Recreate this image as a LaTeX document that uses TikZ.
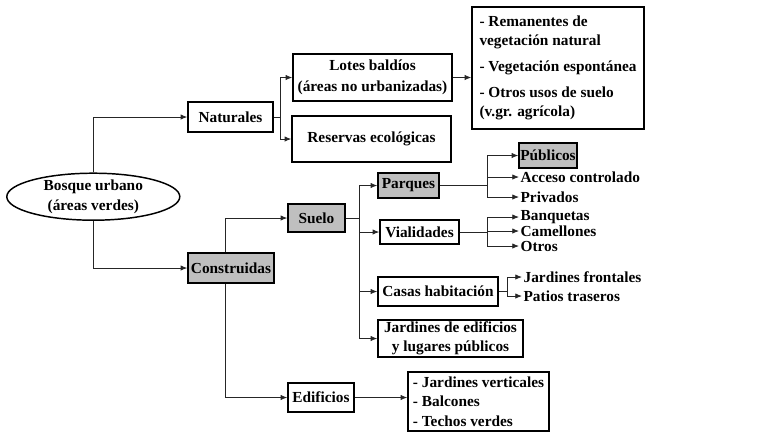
\documentclass[tikz,border=0pt]{standalone}
\usepackage{fontspec}
\setmainfont{Liberation Serif}
\usetikzlibrary{shapes.geometric}
\usetikzlibrary{arrows.meta}
\tikzset{>={Latex[length=5pt,width=4pt]}}

\begin{document}
\begin{tikzpicture}[x=0.75pt,y=-0.75pt,
  every node/.style={font=\bfseries\fontsize{11.5}{14.5}\selectfont, inner sep=1pt},
  box/.style={draw, line width=1.1pt, align=center, inner sep=0pt},
  grey/.style={box, fill=black!25},
  conn/.style={->, black!85, line width=0.6pt}]
\def\px{0.75pt}
\useasboundingbox (0,0) rectangle (780,437);
  % Root and first level
  \node[ellipse, draw, line width=1.1pt, minimum width=173*\px, minimum height=47*\px, align=center, inner sep=0pt] (bosque) at (93.3,196.7) {Bosque urbano\\(áreas verdes)};
  \node[box, minimum width=85*\px, minimum height=30*\px] (nat) at (230.5,117) {Naturales};
  \node[grey, minimum width=86*\px, minimum height=30*\px] (cons) at (231,268) {Construidas};

  % Naturales branch
  \node[box, minimum width=159*\px, minimum height=47*\px] (lotes) at (372.5,77.5) {Lotes baldíos\\[1pt](áreas no urbanizadas)};
  \node[box, minimum width=159*\px, minimum height=46*\px] (res) at (371.5,139) {Reservas ecológicas};
  \node[box, align=left, minimum width=172*\px, minimum height=122*\px] (rem) at (558,68) {- Remanentes de\\vegetación natural\\[5pt]- Vegetación espontánea\\[5pt]- Otros usos de suelo\\(v.gr. agrícola)};

  % Construidas branch
  \node[grey, minimum width=57*\px, minimum height=28*\px] (suelo) at (316.5,218) {Suelo};
  \node[box, minimum width=66*\px, minimum height=29*\px] (edif) at (321,397.5) {Edificios};
  \node[grey, minimum width=61*\px, minimum height=25*\px] (parq) at (408.5,185.5) {Parques};
  \node[box, minimum width=79*\px, minimum height=24*\px] (vial) at (419.5,232) {Vialidades};
  \node[box, minimum width=120*\px, minimum height=29*\px] (casas) at (438,291.5) {Casas habitación};
  \node[box, minimum width=145*\px, minimum height=37*\px] (jard) at (450.5,338.5) {Jardines de edificios\\y lugares públicos};
  \node[box, align=left, minimum width=141*\px, minimum height=59*\px] (verts) at (478.5,401.5) {- Jardines verticales\\- Balcones\\- Techos verdes};

  % Leaves
  \node[grey, minimum width=58*\px, minimum height=25*\px] (pub) at (548,155.5) {Públicos};
  \node[anchor=west] (acc) at (519,177) {Acceso controlado};
  \node[anchor=west] (priv) at (519,197) {Privados};
  \node[anchor=west] (banq) at (519,217) {Banquetas};
  \node[anchor=west] (cam) at (519,231) {Camellones};
  \node[anchor=west] (otros) at (519,246) {Otros};
  \node[anchor=west] (jfront) at (522,277) {Jardines frontales};
  \node[anchor=west] (patios) at (522,296) {Patios traseros};

  % Connectors
  \draw[conn] (bosque.north) |- (nat.west);
  \draw[conn] (bosque.south) |- (cons.west);
  \draw[conn,-] (nat.east) -- ++(7,0) coordinate (n1);
  \foreach \n in {lotes,res}
    \draw[conn] (n1) |- (\n.west);
  \draw[conn] (lotes.east) -- (lotes.east -| rem.west);
  \draw[conn] ([xshift=-4.5pt]cons.north) |- (suelo.west);
  \draw[conn] ([xshift=-4.5pt]cons.south) |- (edif.west);
  \draw[conn,-] (suelo.east) -- ++(14,0) coordinate (s1);
  \foreach \n in {parq,vial,casas,jard}
    \draw[conn] (s1) |- (\n.west);
  \draw[conn,-] (parq.east) -- ++(48,0) coordinate (p1);
  \foreach \n in {pub,acc,priv}
    \draw[conn] (p1) |- (\n.west);
  \draw[conn,-] (vial.east) -- ++(28,0) coordinate (v1);
  \foreach \n in {banq,cam,otros}
    \draw[conn] (v1) |- (\n.west);
  \draw[conn,-] (casas.east) -- ++(9,0) coordinate (c1);
  \foreach \n in {jfront,patios}
    \draw[conn] (c1) |- (\n.west);
  \draw[conn] (edif.east) -- (edif.east -| verts.west);
\end{tikzpicture}
\end{document}
